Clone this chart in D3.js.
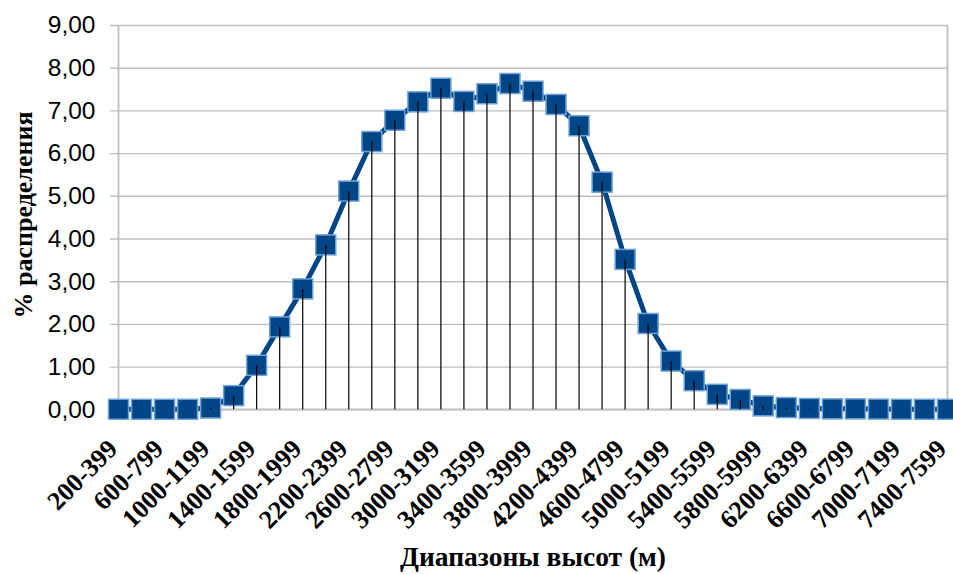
<!DOCTYPE html>
<html><head><meta charset="utf-8">
<script src="https://cdn.jsdelivr.net/npm/d3@7"></script>
<style>html,body{margin:0;padding:0;background:#fff;}svg{display:block;}</style>
</head><body>
<svg id="c" width="953" height="574"></svg>
<script>
const categories = ["200-399","400-599","600-799","800-999","1000-1199","1200-1399","1400-1599","1600-1799",
"1800-1999","2000-2199","2200-2399","2400-2599","2600-2799","2800-2999","3000-3199","3200-3399",
"3400-3599","3600-3799","3800-3999","4000-4199","4200-4399","4400-4599","4600-4799","4800-4999",
"5000-5199","5200-5399","5400-5599","5600-5799","5800-5999","6000-6199","6200-6399","6400-6599",
"6600-6799","6800-6999","7000-7199","7200-7399","7400-7599"];
const values = [0,0,0,0,0.03,0.32,1.03,1.93,2.82,3.85,5.11,6.27,6.77,7.20,7.52,7.21,7.39,7.63,7.45,7.14,6.64,5.32,
3.51,2.01,1.13,0.67,0.35,0.23,0.08,0.04,0.02,0.01,0.01,0.005,0,0,0];
const yTicks = [0,1,2,3,4,5,6,7,8,9];
const xTickLabels = categories.filter((d,i)=>i%2===0);
const yTitle = "% распределения";
const xTitle = "Диапазоны высот (м)";

const svg = d3.select("#c");
const pL = 118.5, pR = 947.5, pT = 25, pB = 409.3;
const x = d3.scalePoint().domain(categories).range([pL, pR]).padding(0);
const y = d3.scaleLinear().domain([0,9]).range([pB, pT]);
const grid = "#bfbfbf";
const serif = "'Liberation Serif', 'Times New Roman', serif";

// gridlines
const g = svg.append("g").attr("transform",`translate(${pR},0)`)
  .call(d3.axisLeft(y).tickValues(yTicks).tickSize(pR-110).tickFormat(""));
g.select(".domain").remove();
g.selectAll("line").attr("stroke",grid).attr("stroke-width",1.4);

// y labels
const yl = svg.append("g").attr("transform",`translate(${pL},0)`)
  .call(d3.axisLeft(y).tickValues(yTicks).tickSize(0).tickPadding(23).tickFormat(d=>d3.format(".2f")(d).replace(".",",")));
yl.select(".domain").remove();
yl.selectAll("text").attr("font-family","'Liberation Sans', Arial, sans-serif").attr("font-size",24.5).attr("fill","#000");

// axes lines
svg.append("line").attr("x1",pL).attr("x2",pL).attr("y1",pT).attr("y2",pB).attr("stroke",grid).attr("stroke-width",1.8);
svg.append("line").attr("x1",pR).attr("x2",pR).attr("y1",pT).attr("y2",pB).attr("stroke",grid).attr("stroke-width",1.8);
svg.append("line").attr("x1",pL).attr("x2",pR).attr("y1",pB).attr("y2",pB).attr("stroke",grid).attr("stroke-width",1.8);

// x labels
const xa = svg.append("g").attr("transform",`translate(0,${pB})`)
  .call(d3.axisBottom(x).tickValues(xTickLabels).tickSize(0).tickPadding(0));
xa.select(".domain").remove();
xa.selectAll("text")
  .attr("font-family",serif).attr("font-weight","bold")
  .attr("font-size",26).attr("fill","#000")
  .attr("text-anchor","end").attr("dy",null).attr("y",null)
  .attr("transform","translate(0,41) rotate(-45)");

// series line
svg.append("path").datum(values)
  .attr("d", d3.line().x((d,i)=>x(categories[i])).y(d=>y(d)))
  .attr("fill","none").attr("stroke","#004586").attr("stroke-width",5).attr("stroke-linejoin","round");

// markers
svg.append("g").selectAll("rect").data(values).join("rect")
  .attr("x",(d,i)=>x(categories[i])-10).attr("y",d=>y(d)-10)
  .attr("width",20).attr("height",20)
  .attr("fill","#004586").attr("stroke","#6fa3d8").attr("stroke-width",1.5);

// drop lines
svg.append("g").selectAll("line").data(values).join("line")
  .attr("x1",(d,i)=>x(categories[i])).attr("x2",(d,i)=>x(categories[i]))
  .attr("y1",d=>y(d)).attr("y2",y(0))
  .attr("stroke","#000").attr("stroke-width",1.2);

// titles
svg.append("text").attr("transform","translate(32,215) rotate(-90)")
  .attr("text-anchor","middle").attr("font-family",serif)
  .attr("font-weight","bold").attr("font-size",26).text(yTitle);
svg.append("text").attr("x",533).attr("y",566)
  .attr("text-anchor","middle").attr("font-family",serif)
  .attr("font-weight","bold").attr("font-size",27.5).text(xTitle);
</script>
</body></html>
